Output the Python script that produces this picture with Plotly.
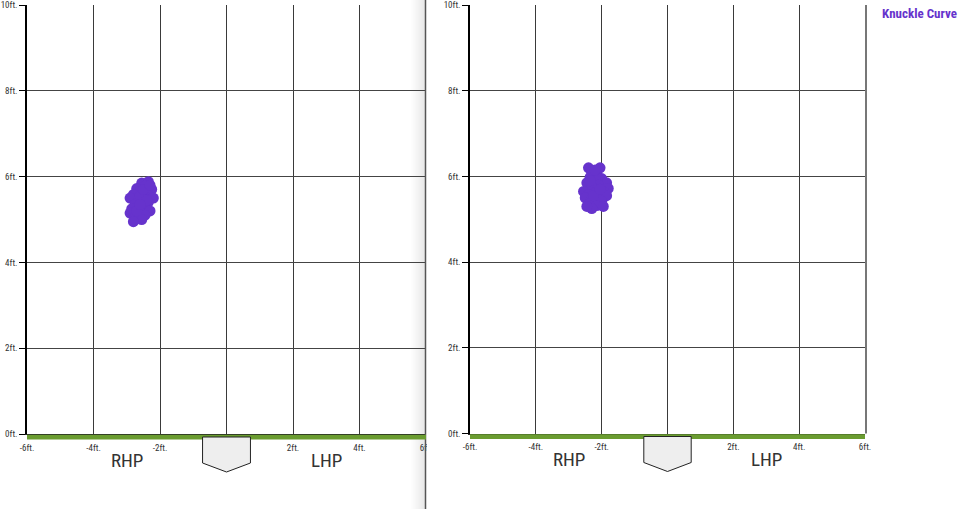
import plotly.graph_objects as go

W, H = 969, 509

# ---- data (release points, feet) ----
pitch_name = "Knuckle Curve"
left_x = [-2.55, -2.35, -2.45, -2.70, -2.25, -2.60, -2.40, -2.80, -2.20, -2.50,
          -2.90, -2.65, -2.35, -2.75, -2.45, -2.85, -2.55, -2.30, -2.90, -2.65,
          -2.45, -2.75, -2.55, -2.80, -2.60, -2.50, -2.70, -2.40, -2.30, -2.60]
left_y = [5.85, 5.88, 5.78, 5.72, 5.70, 5.65, 5.62, 5.58, 5.50, 5.50,
          5.50, 5.42, 5.40, 5.35, 5.30, 5.25, 5.22, 5.20, 5.15, 5.10,
          5.10, 5.05, 5.00, 4.95, 5.55, 5.70, 5.20, 5.45, 5.80, 5.35]
right_x = [-2.40, -2.05, -2.30, -2.15, -2.35, -2.00, -2.20, -1.85, -2.45, -2.10,
           -1.80, -2.30, -2.55, -1.95, -2.20, -2.40, -1.85, -2.10, -2.50, -2.30,
           -2.00, -2.40, -2.15, -1.95, -2.30, -2.45, -2.25, -2.05, -2.35, -2.20]
right_y = [6.20, 6.20, 6.10, 6.05, 5.98, 5.95, 5.90, 5.85, 5.85, 5.80,
           5.72, 5.75, 5.65, 5.65, 5.62, 5.58, 5.55, 5.50, 5.50, 5.45,
           5.42, 5.35, 5.32, 5.30, 5.25, 5.30, 5.55, 5.70, 5.90, 6.15]

x_tick_vals = [-6, -4, -2, 0, 2, 4, 6]
x_tick_text = ["-6ft.", "-4ft.", "-2ft.", "", "2ft.", "4ft.", "6ft."]
y_tick_vals = [0, 2, 4, 6, 8, 10]
y_tick_text = ["0ft.", "2ft.", "4ft.", "6ft.", "8ft.", "10ft."]
side_labels = ["RHP", "LHP"]
side_pos = [-3, 3]

PURPLE = "#6633CC"
GREEN = "#6A9C30"
FONT = "Roboto Condensed, Liberation Sans Narrow, Roboto, sans-serif"


def px(p):
    return p / W


def py(p):
    return (H - p) / H


fig = go.Figure()
fig.add_trace(go.Scatter(x=left_x, y=left_y, mode="markers", xaxis="x", yaxis="y",
                         marker=dict(size=11, color=PURPLE, line=dict(width=0)),
                         hoverinfo="skip", showlegend=False))
fig.add_trace(go.Scatter(x=right_x, y=right_y, mode="markers", xaxis="x2", yaxis="y2",
                         marker=dict(size=11, color=PURPLE, line=dict(width=0)),
                         hoverinfo="skip", showlegend=False))

xcommon = dict(range=[-6, 6], tickvals=x_tick_vals, ticktext=x_tick_text,
               showgrid=True, gridcolor="#3a3a3a", gridwidth=1, zeroline=False,
               showline=True, linecolor="#222", linewidth=1, automargin=False,
               ticks="outside", ticklen=5, tickcolor="rgba(0,0,0,0)",
               tickfont=dict(family=FONT, size=9, color="#333"), fixedrange=True)
ycommon = dict(range=[0, 10], tickvals=y_tick_vals, ticktext=y_tick_text,
               showgrid=True, gridcolor="#444", gridwidth=1, zeroline=False,
               showline=True, linecolor="#000", linewidth=1.5, automargin=False,
               ticks="outside", ticklen=6, tickcolor="#000",
               tickfont=dict(family=FONT, size=9, color="#333"), fixedrange=True)

fig.update_layout(
    width=W, height=H, margin=dict(l=0, r=0, t=0, b=0, autoexpand=False),
    paper_bgcolor="white", plot_bgcolor="rgba(0,0,0,0)",
    xaxis=dict(domain=[px(27), px(426)], anchor="y", **xcommon),
    yaxis=dict(domain=[py(434), py(5)], anchor="x", **ycommon),
    xaxis2=dict(domain=[px(470), px(865)], anchor="y2", **xcommon),
    yaxis2=dict(domain=[py(433.5), py(5)], anchor="x2", **ycommon),
)

shapes = []
# separator shading (card shadow) on the left panel's right edge
steps = 14
for i in range(steps):
    x0 = 411 + i
    a = 0.012 * (i + 1)
    shapes.append(dict(type="rect", xref="paper", yref="paper", layer="below",
                       x0=px(x0), x1=px(x0 + 1), y0=0, y1=1,
                       fillcolor=f"rgba(120,120,120,{a:.3f})", line=dict(width=0)))
# cover for overflowing label of the clipped left panel
shapes.append(dict(type="rect", xref="paper", yref="paper", layer="above",
                   x0=px(427), x1=px(445), y0=py(455), y1=py(440),
                   fillcolor="white", line=dict(width=0)))
shapes.append(dict(type="line", xref="paper", yref="paper", layer="above",
                   x0=px(425.5), x1=px(425.5), y0=0, y1=1,
                   line=dict(color="#555", width=1.5)))
# right border of the right panel
shapes.append(dict(type="line", xref="paper", yref="paper", layer="above",
                   x0=px(866), x1=px(866), y0=py(433.5), y1=py(5),
                   line=dict(color="#777", width=2)))

for xr, base in (("x", 434), ("x2", 433.5)):
    # ground strip
    shapes.append(dict(type="rect", xref=xr, yref="paper", layer="above",
                       x0=-6, x1=6, y0=py(base + 5.5), y1=py(base + 0.8),
                       fillcolor=GREEN, line=dict(width=0)))
    # home plate
    top = base + 3
    path = (f"M -0.72 {py(top)} L 0.72 {py(top)} L 0.72 {py(top + 26)} "
            f"L 0 {py(top + 35)} L -0.72 {py(top + 26)} Z")
    shapes.append(dict(type="path", xref=xr, yref="paper", layer="above", path=path,
                       fillcolor="#EEEEEE", line=dict(color="#222", width=1)))

annotations = []
for xr, base in (("x", 434), ("x2", 433.5)):
    for lab, pos in zip(side_labels, side_pos):
        annotations.append(dict(xref=xr, yref="paper", x=pos, y=py(base + 26),
                                text=lab, showarrow=False, xanchor="center",
                                yanchor="middle",
                                font=dict(family=FONT, size=19, color="#333")))
annotations.append(dict(xref="paper", yref="paper", x=px(880), y=py(13),
                        text=f"<b>{pitch_name}</b>", showarrow=False,
                        xanchor="left", yanchor="middle",
                        font=dict(family=FONT, size=13, color=PURPLE)))

fig.update_layout(shapes=shapes, annotations=annotations)
fig.write_html("out.html", config={"displayModeBar": False},
               post_script="document.body.style.margin='0';"
                           "document.body.style.overflow='hidden';")
